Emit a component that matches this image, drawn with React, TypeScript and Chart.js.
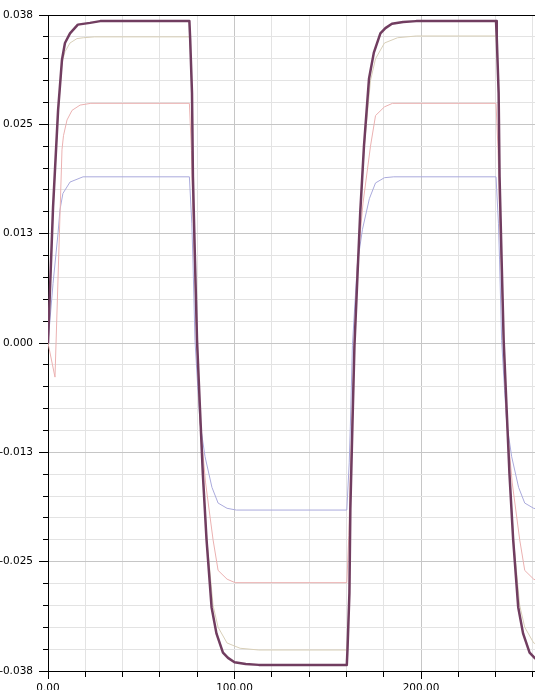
import React, { useEffect, useRef } from "react";
import { Chart, registerables } from "chart.js";

Chart.register(...registerables);

// ---- Data ----
const darkX = [0, 2.7, 5.4, 7.5, 9.1, 11.8, 16, 22.5, 28, 75.8, 76.2, 77.2, 77.7, 78.8, 79.9, 81.5, 83.0, 85.0, 87.7, 90.3, 93.8, 96.5, 100, 106, 113, 160.2, 160.6, 161.6, 162.1, 163.2, 164.3, 165.9, 167.4, 169.4, 172.1, 174.7, 178.2, 180.9, 184.4, 190.4, 197.4, 240.2, 240.6, 241.6, 242.1, 243.2, 244.3, 245.9, 247.4, 249.4, 252.1, 254.7, 258.2, 260.9, 264.4];
const darkY = [0, 0.0155, 0.0266, 0.0324, 0.0343, 0.0354, 0.0364, 0.0366, 0.0368, 0.0368, 0.0349, 0.0286, 0.0190, 0.0095, 0.0003, -0.0076, -0.0149, -0.0225, -0.0302, -0.0332, -0.0354, -0.0360, -0.0365, -0.0367, -0.0368, -0.0368, -0.0349, -0.0286, -0.0190, -0.0095, -0.0003, 0.0076, 0.0149, 0.0225, 0.0302, 0.0332, 0.0354, 0.0360, 0.0365, 0.0367, 0.0368, 0.0368, 0.0349, 0.0286, 0.0190, 0.0095, 0.0003, -0.0076, -0.0149, -0.0225, -0.0302, -0.0332, -0.0354, -0.0360, -0.0365];

const tanX = [0, 2.7, 5.4, 7.5, 9.1, 11.8, 15.5, 19, 25, 75.8, 76.3, 77.2, 77.7, 78.8, 79.9, 81.5, 83.0, 85.2, 88.5, 91.2, 96, 103, 113, 160.2, 160.7, 161.6, 162.1, 163.2, 164.3, 165.9, 167.4, 169.6, 172.9, 175.6, 180.4, 187.4, 197.4, 240.2, 240.7, 241.6, 242.1, 243.2, 244.3, 245.9, 247.4, 249.6, 252.9, 255.6, 260.4, 267.4];
const tanY = [0, 0.0150, 0.0262, 0.0320, 0.0333, 0.0343, 0.0348, 0.0349, 0.0350, 0.0350, 0.0335, 0.0280, 0.0188, 0.0093, 0.0001, -0.0078, -0.0150, -0.0225, -0.0300, -0.0325, -0.0343, -0.0349, -0.0351, -0.0351, -0.0335, -0.0280, -0.0188, -0.0093, -0.0001, 0.0078, 0.0150, 0.0225, 0.0300, 0.0325, 0.0343, 0.0349, 0.0351, 0.0351, 0.0335, 0.0280, 0.0188, 0.0093, 0.0001, -0.0078, -0.0150, -0.0225, -0.0300, -0.0325, -0.0343, -0.0349];

const pinkX = [0, 3.75, 7.5, 8.3, 10.2, 12.9, 17.2, 23, 75.8, 76.9, 77.7, 78.8, 79.9, 81.5, 84.5, 88.5, 91.2, 96, 100.3, 160.2, 161.3, 162.1, 163.2, 164.3, 165.9, 168.9, 172.9, 175.6, 180.4, 184.7, 240.2, 241.3, 242.1, 243.2, 244.3, 245.9, 248.9, 252.9, 255.6, 260.4, 264.7];
const pinkY = [0, -0.0039, 0.0221, 0.0237, 0.0255, 0.0266, 0.0272, 0.0274, 0.0274, 0.0220, 0.0150, 0.0075, 0.0000, -0.0090, -0.0160, -0.0225, -0.0260, -0.0270, -0.0274, -0.0274, -0.0220, -0.0150, -0.0075, 0.0000, 0.0090, 0.0160, 0.0225, 0.0260, 0.0270, 0.0274, 0.0274, 0.0220, 0.0150, 0.0075, 0.0000, -0.0090, -0.0160, -0.0225, -0.0260, -0.0270, -0.0274];

const blueX = [0, 2.7, 5.4, 6.4, 8.0, 11.8, 18.8, 75.8, 77.1, 77.7, 78.8, 80.4, 81.5, 84.2, 87.9, 91.2, 96, 101, 160.2, 161.5, 162.1, 163.2, 164.8, 165.9, 168.6, 172.3, 175.6, 180.4, 185.4, 240.2, 241.5, 242.1, 243.2, 244.8, 245.9, 248.6, 252.3, 255.6, 260.4, 265.4];
const blueY = [0, 0.0068, 0.0126, 0.0152, 0.0171, 0.0184, 0.0190, 0.0190, 0.0137, 0.0095, 0.0003, -0.0054, -0.0091, -0.0130, -0.0165, -0.0183, -0.0189, -0.0191, -0.0191, -0.0137, -0.0095, -0.0003, 0.0054, 0.0091, 0.0130, 0.0165, 0.0183, 0.0189, 0.0190, 0.0190, 0.0137, 0.0095, 0.0003, -0.0054, -0.0091, -0.0130, -0.0165, -0.0183, -0.0189, -0.0191];

const xTickValues = [0, 20, 40, 60, 80, 100, 120, 140, 160, 180, 200, 220, 240, 260];
const xLabelValues = [0, 100, 200];
const xTickLabels = ["0.00", "100.00", "200.00"];
const yTickLabels = ["-0.038", "-0.025", "-0.013", "0.000", "0.013", "0.025", "0.038"];
const yMin = -0.0375;
const yMax = 0.0375;
const yMinorStep = 0.0025;
const xMin = 0;
const xMax = 261.1;

const yTickValues = Array.from({ length: 31 }, (_, i) => yMin + i * yMinorStep);

const pts = (xs: number[], ys: number[]) => xs.map((x, i) => ({ x, y: ys[i] }));

const align = (p: number) => Math.round(p - 0.5) + 0.5;

const frameTicks = {
  id: "frameTicks",
  afterDraw(chart: any) {
    const { ctx, chartArea, scales } = chart;
    const xs = scales.x;
    const ys = scales.y;
    ctx.save();
    ctx.strokeStyle = "#000";
    ctx.lineWidth = 1;
    ctx.beginPath();
    ys.ticks.forEach((t: any, i: number) => {
      const y = align(ys.getPixelForValue(t.value));
      const len = i % 5 === 0 ? 9 : 5;
      ctx.moveTo(chartArea.left - len, y);
      ctx.lineTo(chartArea.left, y);
    });
    xs.ticks.forEach((t: any) => {
      const x = align(xs.getPixelForValue(t.value));
      const len = t.value % 100 === 0 ? 8 : 6;
      ctx.moveTo(x, chartArea.bottom);
      ctx.lineTo(x, chartArea.bottom + len);
    });
    const ty = align(chartArea.top);
    ctx.moveTo(chartArea.left, ty);
    ctx.lineTo(chartArea.right, ty);
    ctx.stroke();
    ctx.restore();
  },
};

export default function App() {
  const ref = useRef<HTMLCanvasElement | null>(null);

  useEffect(() => {
    if (!ref.current) return;
    const font = { family: "'DejaVu Sans', sans-serif", size: 10.5 };
    const chart = new Chart(ref.current, {
      type: "line",
      data: {
        datasets: [
          { data: pts(darkX, darkY), borderColor: "#713d60", borderWidth: 2.5 },
          { data: pts(tanX, tanY), borderColor: "#d8cfb8", borderWidth: 1 },
          { data: pts(pinkX, pinkY), borderColor: "#ebb1b1", borderWidth: 1 },
          { data: pts(blueX, blueY), borderColor: "#aaaadc", borderWidth: 1 },
        ].map((d) => ({ ...d, pointRadius: 0, pointHoverRadius: 0, pointHitRadius: 0, tension: 0, fill: false, borderJoinStyle: "round" as const })),
      },
      options: {
        animation: false,
        responsive: false,
        devicePixelRatio: 1,
        layout: { autoPadding: false, padding: { top: 15, right: 0, left: 0, bottom: 0 } },
        plugins: { legend: { display: false }, tooltip: { enabled: false } },
        scales: {
          x: {
            type: "linear",
            min: xMin,
            max: xMax,
            afterBuildTicks: (s: any) => {
              s.ticks = xTickValues.map((v) => ({ value: v }));
            },
            afterFit: (s: any) => {
              s.height = 19;
            },
            grid: {
              drawTicks: true,
              tickLength: 11,
              tickColor: "rgba(0,0,0,0)",
              color: (c: any) => (c.tick && c.tick.value % 100 === 0 ? "#c6c6c6" : "#e3e3e3"),
            },
            border: { color: "#000", width: 1 },
            ticks: {
              autoSkip: false,
              maxRotation: 0,
              padding: 0,
              color: "#000",
              font,
              callback: (v: any) => {
                const idx = xLabelValues.indexOf(Number(v));
                return idx >= 0 ? xTickLabels[idx] : "";
              },
            },
          },
          y: {
            type: "linear",
            min: yMin,
            max: yMax,
            afterBuildTicks: (s: any) => {
              s.ticks = yTickValues.map((v) => ({ value: v }));
            },
            afterFit: (s: any) => {
              s.width = 48;
            },
            grid: {
              drawTicks: true,
              tickLength: 15,
              tickColor: "rgba(0,0,0,0)",
              color: (c: any) => (c.index % 5 === 0 ? "#c6c6c6" : "#e3e3e3"),
            },
            border: { color: "#000", width: 1 },
            ticks: {
              autoSkip: false,
              padding: 0,
              color: "#000",
              font,
              callback: (_v: any, i: number) => (i % 5 === 0 ? yTickLabels[i / 5] : ""),
            },
          },
        },
      },
      plugins: [frameTicks],
    });
    return () => chart.destroy();
  }, []);

  return (
    <div style={{ position: "fixed", left: 0, top: 0, width: 535, height: 690, overflow: "hidden", background: "#fff" }}>
      <canvas ref={ref} width={535} height={690} style={{ display: "block" }} />
    </div>
  );
}
